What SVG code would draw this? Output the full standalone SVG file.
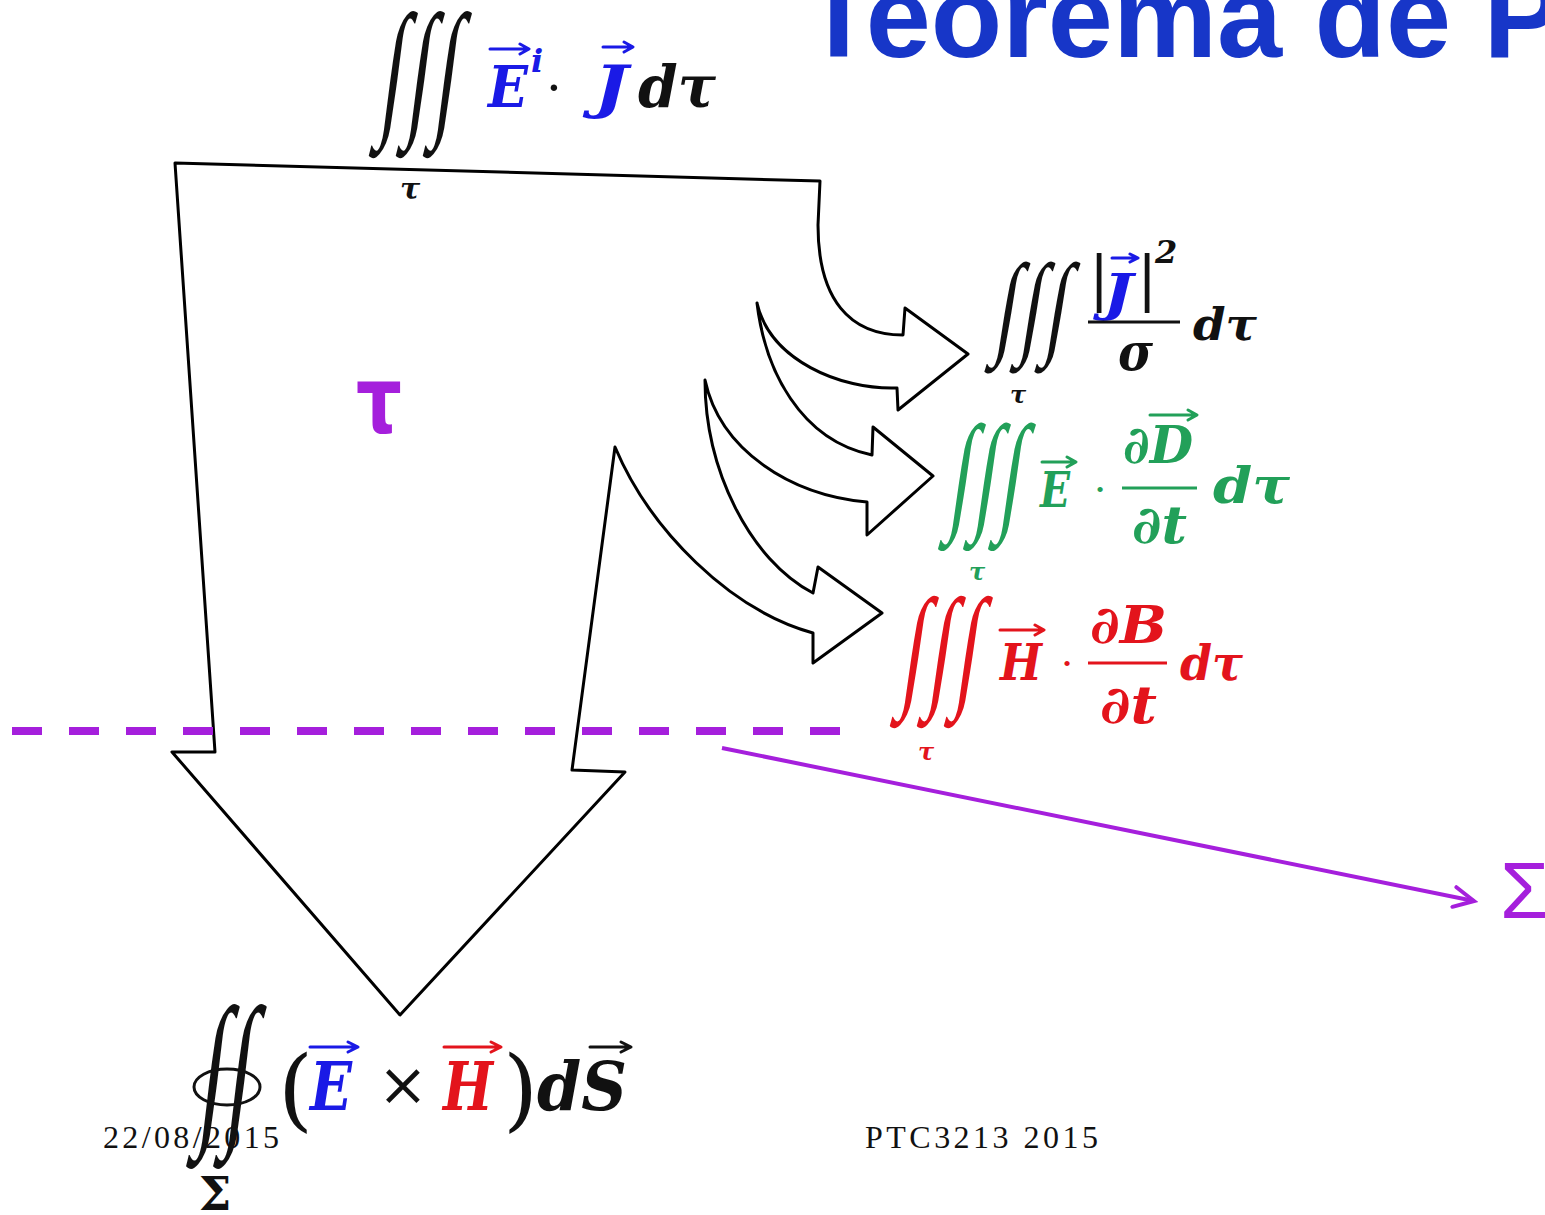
<svg xmlns="http://www.w3.org/2000/svg" width="1545" height="1215" viewBox="0 0 1545 1215">
<defs>
<style>
.m{font-family:"DejaVu Serif","Liberation Serif",serif;font-weight:bold;font-style:italic}
.r{font-family:"DejaVu Serif","Liberation Serif",serif}
.int{font-family:"Liberation Serif","Times New Roman",serif;font-size:100px}
.foot{font-family:"Liberation Serif","Times New Roman",serif;font-size:32px;fill:#111}
.vec{fill:none;stroke-width:3;stroke-linecap:round;stroke-linejoin:round}
.outline{fill:none;stroke:#000;stroke-width:3;stroke-linejoin:round}
.blue{fill:#1a1ae6}.green{fill:#22a059}.red{fill:#e3141c}.blk{fill:#111}
</style>
<marker id="openHead" markerWidth="26" markerHeight="26" refX="22" refY="13" orient="auto" markerUnits="userSpaceOnUse" viewBox="0 0 26 26">
<path d="M2,3 L22,13 L2,23" fill="none" stroke="#a51fdc" stroke-width="4" stroke-linecap="round" stroke-linejoin="miter"/>
</marker>
</defs>
<rect width="1545" height="1215" fill="#fff"/>

<g id="title">
<text x="803" y="57" font-family="Liberation Sans,Arial,sans-serif" font-weight="bold" font-size="117" fill="#1736c8">Teorema de P</text>
</g>

<g id="footer">
<text class="foot" x="103" y="1148" textLength="176" lengthAdjust="spacing">22/08/2015</text>
<text class="foot" x="865" y="1148" textLength="233" lengthAdjust="spacing">PTC3213 2015</text>
</g>

<g id="flow-arrows">
<path class="outline" d="M175,163 L820,181 L818,225 C818,300 850,335 903,335 L905,308 L968,354 L898,410 L897,388 C840,390 770,360 757,303 C765,370 800,440 872,455 L873,427 L933,476 L867,535 L867,502 C790,495 720,450 705,380 C705,470 750,560 813,593 L818,567 L882,613 L813,663 L813,633 C730,610 650,530 615,447 L572,770 L625,772 L400,1015 L172,752 L215,752 Z"/>
</g>

<g id="connectors">
<line x1="12" y1="731" x2="845" y2="731" stroke="#a51fdc" stroke-width="8" stroke-dasharray="30 27"/>
<line x1="722" y1="748" x2="1474" y2="901" stroke="#a51fdc" stroke-width="4" marker-end="url(#openHead)"/>
</g>

<g id="tau-label">
<text x="356" y="433" font-family="DejaVu Sans,sans-serif" font-weight="bold" font-size="92" fill="#a51fdc" textLength="46" lengthAdjust="spacingAndGlyphs">τ</text>
</g>

<g id="sigma-label">
<text x="1500" y="918" font-family="Liberation Sans,Arial,sans-serif" font-size="80" fill="#a51fdc">Σ</text>
</g>

<g id="formula-source">
<g class="blk">
<text class="int" transform="translate(378,118) scale(0.8,1.5) skewX(-14)">∫</text>
<text class="int" transform="translate(405,118) scale(0.8,1.5) skewX(-14)">∫</text>
<text class="int" transform="translate(432,118) scale(0.8,1.5) skewX(-14)">∫</text>
</g>
<text class="m blk" x="400" y="199" font-size="30">τ</text>
<text class="m blue" x="488" y="107" font-size="58" textLength="40" lengthAdjust="spacingAndGlyphs">E</text>
<text class="m blue" x="531" y="72" font-size="32">i</text>
<path class="vec" stroke="#1a1ae6" d="M490,49 H528 M520,44 L529,49 L520,54"/>
<text class="r blk" x="554" y="105" font-size="50" text-anchor="middle">·</text>
<text class="m blue" x="594" y="107" font-size="58" textLength="34" lengthAdjust="spacingAndGlyphs">J</text>
<path class="vec" stroke="#1a1ae6" d="M603,47 H632 M624,42 L633,47 L624,52"/>
<text class="m blk" x="638" y="107" font-size="58" textLength="78" lengthAdjust="spacingAndGlyphs">dτ</text>
</g>

<g id="formula-joule">
<g class="blk">
<text class="int" transform="translate(993,343) scale(0.75,1.14) skewX(-14)">∫</text>
<text class="int" transform="translate(1018,343) scale(0.75,1.14) skewX(-14)">∫</text>
<text class="int" transform="translate(1043,343) scale(0.75,1.14) skewX(-14)">∫</text>
</g>
<text class="m blk" x="1010" y="403" font-size="24">τ</text>
<text class="r blk" x="1089" y="299" font-size="60">|</text>
<text class="m blue" x="1103" y="310" font-size="50" textLength="30" lengthAdjust="spacingAndGlyphs">J</text>
<path class="vec" stroke="#1a1ae6" d="M1112,258 H1137 M1130,254 L1138,258 L1130,262"/>
<text class="r blk" x="1137" y="299" font-size="60">|</text>
<text class="m blk" x="1155" y="263" font-size="32" font-style="normal">2</text>
<line x1="1088" y1="322" x2="1180" y2="322" stroke="#111" stroke-width="3"/>
<text class="m blk" x="1118" y="370" font-size="52" textLength="35" lengthAdjust="spacingAndGlyphs">σ</text>
<text class="m blk" x="1193" y="340" font-size="44" textLength="64" lengthAdjust="spacingAndGlyphs">dτ</text>
</g>

<g id="formula-electric">
<g class="green">
<text class="int" transform="translate(947,516) scale(0.78,1.31) skewX(-14)">∫</text>
<text class="int" transform="translate(972,516) scale(0.78,1.31) skewX(-14)">∫</text>
<text class="int" transform="translate(997,516) scale(0.78,1.31) skewX(-14)">∫</text>
</g>
<text class="m green" x="969" y="580" font-size="24">τ</text>
<text class="m green" x="1040" y="507" font-size="48" textLength="30" lengthAdjust="spacingAndGlyphs">E</text>
<path class="vec" stroke="#22a059" d="M1042,462 H1075 M1067,457 L1076,462 L1067,467"/>
<text class="r green" x="1100" y="503" font-size="40" text-anchor="middle">·</text>
<text class="m green" x="1123" y="463" font-size="52" textLength="70" lengthAdjust="spacingAndGlyphs">∂D</text>
<path class="vec" stroke="#22a059" d="M1150,415 H1196 M1188,410 L1197,415 L1188,420"/>
<line x1="1122" y1="488" x2="1197" y2="488" stroke="#22a059" stroke-width="3"/>
<text class="m green" x="1132" y="543" font-size="52" textLength="55" lengthAdjust="spacingAndGlyphs">∂t</text>
<text class="m green" x="1213" y="503" font-size="50" textLength="77" lengthAdjust="spacingAndGlyphs">dτ</text>
</g>

<g id="formula-magnetic">
<g class="red">
<text class="int" transform="translate(899,692) scale(0.8,1.35) skewX(-14)">∫</text>
<text class="int" transform="translate(926,692) scale(0.8,1.35) skewX(-14)">∫</text>
<text class="int" transform="translate(953,692) scale(0.8,1.35) skewX(-14)">∫</text>
</g>
<text class="m red" x="918" y="760" font-size="24">τ</text>
<text class="m red" x="1000" y="680" font-size="50" textLength="42" lengthAdjust="spacingAndGlyphs">H</text>
<path class="vec" stroke="#e3141c" d="M1000,630 H1043 M1035,625 L1044,630 L1035,635"/>
<text class="r red" x="1067" y="677" font-size="40" text-anchor="middle">·</text>
<text class="m red" x="1090" y="643" font-size="52" textLength="77" lengthAdjust="spacingAndGlyphs">∂B</text>
<line x1="1088" y1="663" x2="1167" y2="663" stroke="#e3141c" stroke-width="3"/>
<text class="m red" x="1100" y="723" font-size="52" textLength="57" lengthAdjust="spacingAndGlyphs">∂t</text>
<text class="m red" x="1180" y="680" font-size="48" textLength="63" lengthAdjust="spacingAndGlyphs">dτ</text>
</g>

<g id="formula-flux">
<g class="blk">
<text class="int" transform="translate(196,1124) scale(0.9,1.68) skewX(-13)">∫</text>
<text class="int" transform="translate(223,1124) scale(0.9,1.68) skewX(-13)">∫</text>
</g>
<ellipse cx="227" cy="1087" rx="33" ry="18" fill="none" stroke="#111" stroke-width="3"/>
<text class="r blk" x="215" y="1210" font-size="46" font-weight="bold" text-anchor="middle">Σ</text>
<text class="r blk" x="278" y="1120" font-size="90">(</text>
<text class="m blue" x="310" y="1110" font-size="68" textLength="42" lengthAdjust="spacingAndGlyphs">E</text>
<path class="vec" stroke="#1a1ae6" d="M310,1047 H357 M348,1042 L358,1047 L348,1052"/>
<text class="r blk" x="403" y="1105" font-size="60" text-anchor="middle">×</text>
<text class="m red" x="443" y="1110" font-size="68" textLength="50" lengthAdjust="spacingAndGlyphs">H</text>
<path class="vec" stroke="#e3141c" d="M444,1047 H500 M491,1042 L501,1047 L491,1052"/>
<text class="r blk" x="503" y="1120" font-size="90">)</text>
<text class="m blk" x="537" y="1110" font-size="68" textLength="90" lengthAdjust="spacingAndGlyphs">dS</text>
<path class="vec" stroke="#111" d="M590,1047 H630 M621,1042 L631,1047 L621,1052"/>
</g>
</svg>
